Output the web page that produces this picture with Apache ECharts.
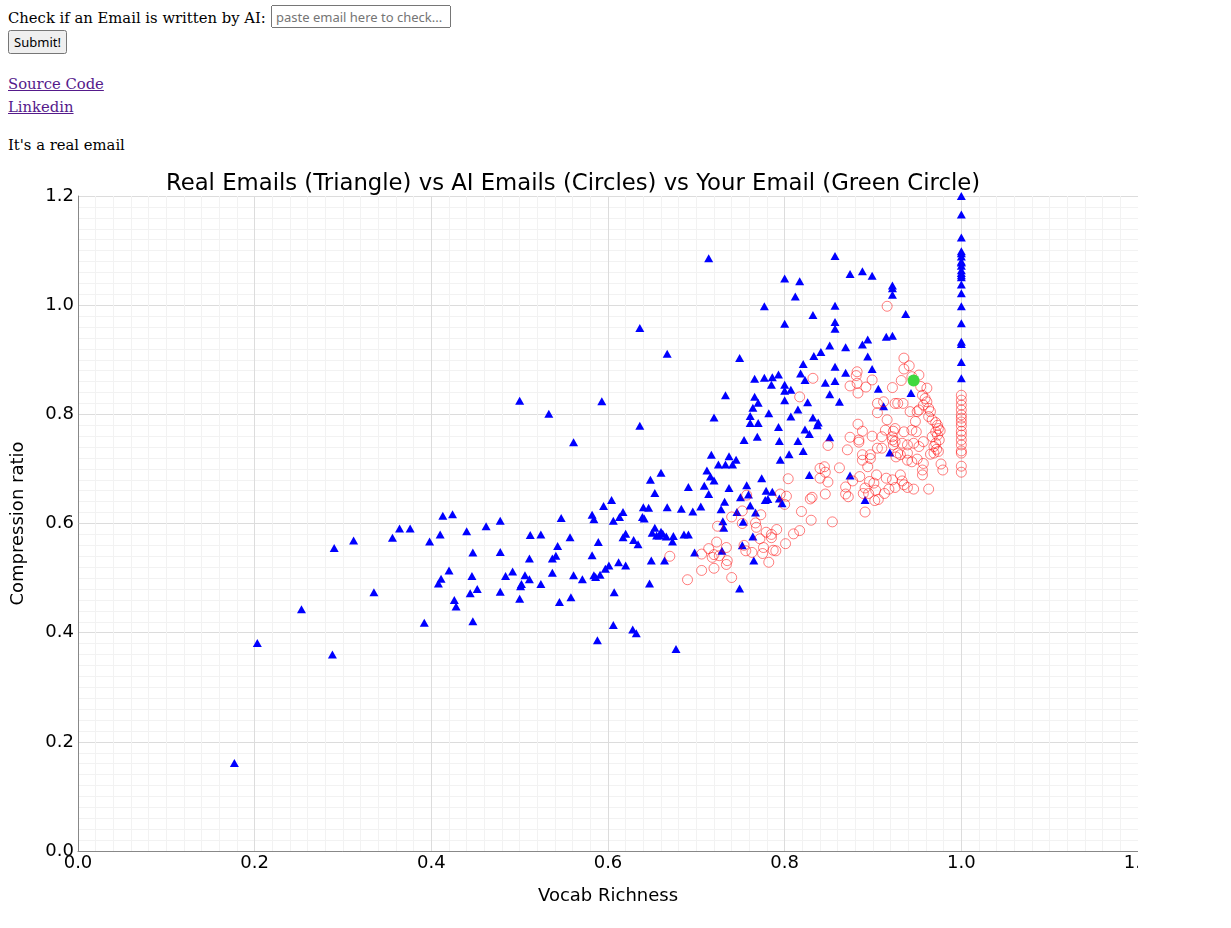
<!DOCTYPE html>
<html>
<head>
<meta charset="utf-8">
<script src="https://cdn.jsdelivr.net/npm/echarts@6/dist/echarts.min.js"></script>
<style>
  body { margin: 8px; font-family: 'DejaVu Serif', serif; font-size: 14.8px; color: #000; }
  .ln { position: absolute; left: 8px; line-height: 23px; white-space: nowrap; }
  a { color: #551a8b; }
  #q { position: absolute; left: 271px; top: 5px; width: 180px; height: 23px; box-sizing: border-box;
       font-family: 'Noto Sans', sans-serif; font-size: 13px; padding: 1px 3px; }
  #sub { position: absolute; left: 8px; top: 30px; width: 59px; height: 24px; box-sizing: border-box;
         font-family: 'Noto Sans', sans-serif; font-size: 13px; padding: 0; }
  #chart { position: absolute; left: 8px; top: 160px; width: 1130px; height: 760px; }
</style>
</head>
<body>
<div class="ln" style="top:6px">Check if an Email is written by AI:</div>
<input id="q" type="text" placeholder="paste email here to check...">
<button id="sub">Submit!</button>
<div class="ln" style="top:72px"><a href="#">Source Code</a><br><a href="#">Linkedin</a></div>
<div class="ln" style="top:133px">It's a real email</div>
<div id="chart"></div>
<script>
// Real emails (blue triangles)
const realX = [0.177,0.203,0.253,0.288,0.290,0.312,0.335,0.356,0.364,0.376,0.392,0.398,0.410,0.413,0.424,0.420,0.411,0.408,0.426,0.428,
0.500,0.593,0.533,0.561,0.604,0.595,0.582,0.584,0.547,0.478,0.462,0.606,0.613,0.440,0.512,0.524,0.557,0.589,0.543,0.447,
0.478,0.541,0.537,0.511,0.582,0.612,0.601,0.597,0.446,0.484,0.492,0.506,0.511,0.537,0.561,0.571,0.584,0.586,0.591,0.502,
0.501,0.524,0.478,0.452,0.444,0.500,0.545,0.558,0.607,0.447,0.606,0.588,
0.717,0.737,0.745,0.725,0.733,0.741,0.660,0.712,0.716,0.720,0.648,0.691,0.709,0.757,0.737,0.653,0.714,0.759,0.750,0.732,
0.761,0.640,0.646,0.667,0.683,0.696,0.705,0.728,0.746,0.767,0.617,0.639,0.641,0.730,0.753,0.731,0.653,0.650,0.660,0.662,
0.655,0.658,0.666,0.674,0.673,0.686,0.691,0.620,0.617,0.629,0.634,0.764,0.752,0.698,0.729,0.649,0.664,0.765,0.620,0.647,
0.749,0.628,0.632,0.677,0.754,
0.714,0.636,0.667,0.749,0.766,0.733,0.766,0.770,0.764,0.720,0.761,0.761,0.770,0.636,0.769,
0.857,0.874,0.888,0.899,0.800,0.817,0.812,0.777,0.857,0.832,0.800,0.857,0.857,0.894,0.888,0.851,0.869,0.841,0.833,0.894,
0.821,0.857,0.899,0.818,0.793,0.777,0.786,0.823,0.869,0.857,0.846,0.785,0.800,0.800,0.807,0.906,0.851,0.800,0.826,0.862,
0.815,0.782,0.807,0.832,0.838,0.837,0.793,0.823,0.828,0.851,
0.915,0.922,0.912,0.919,0.922,0.922,0.922,0.937,0.943,
0.794,0.815,0.821,0.805,0.795,0.828,0.774,0.874,0.779,0.786,0.794,0.778,0.781,0.797,0.891,
1.0,1.0,1.0,1.0,1.0,1.0,1.0,1.0,1.0,1.0,1.0,1.0,1.0,1.0,1.0,1.0,1.0,1.0,1.0,1.0,1.0];
const realY = [0.161,0.381,0.443,0.360,0.555,0.569,0.474,0.574,0.591,0.591,0.418,0.567,0.580,0.614,0.617,0.514,0.499,0.490,0.460,0.448,
0.825,0.824,0.801,0.749,0.643,0.632,0.616,0.608,0.610,0.605,0.595,0.605,0.612,0.586,0.579,0.580,0.575,0.566,0.559,0.547,
0.548,0.541,0.536,0.536,0.542,0.529,0.523,0.517,0.504,0.504,0.512,0.505,0.498,0.510,0.505,0.498,0.505,0.502,0.506,0.489,
0.485,0.489,0.475,0.480,0.472,0.462,0.456,0.465,0.474,0.421,0.414,0.386,
0.726,0.723,0.717,0.708,0.708,0.708,0.693,0.697,0.686,0.679,0.680,0.667,0.669,0.670,0.665,0.656,0.654,0.653,0.648,0.640,
0.633,0.630,0.629,0.630,0.627,0.622,0.631,0.626,0.621,0.620,0.621,0.612,0.609,0.604,0.603,0.592,0.592,0.583,0.585,0.581,
0.578,0.578,0.576,0.577,0.567,0.580,0.580,0.581,0.575,0.570,0.562,0.576,0.560,0.547,0.550,0.532,0.532,0.532,0.523,0.490,
0.481,0.406,0.399,0.370,0.753,
1.086,0.958,0.911,0.903,0.865,0.835,0.832,0.821,0.812,0.794,0.797,0.784,0.784,0.779,0.759,
1.090,1.057,1.062,1.054,1.049,1.044,1.016,0.998,0.999,0.982,0.966,0.969,0.957,0.937,0.928,0.926,0.923,0.914,0.907,0.906,
0.892,0.887,0.883,0.875,0.873,0.867,0.868,0.863,0.876,0.861,0.858,0.854,0.854,0.843,0.845,0.847,0.837,0.826,0.822,0.823,
0.809,0.802,0.796,0.794,0.785,0.780,0.777,0.772,0.764,0.758,
0.942,0.944,0.815,0.730,1.036,1.031,1.019,0.984,0.839,
0.751,0.751,0.733,0.727,0.717,0.689,0.683,0.688,0.660,0.658,0.646,0.643,0.645,0.637,0.643,
1.200,1.166,1.124,1.099,1.095,1.089,1.080,1.078,1.072,1.064,1.059,1.055,1.051,1.038,1.022,0.998,0.967,0.933,0.929,0.896,0.866];

// AI emails (red hollow circles)
const aiX = [0.757,0.752,0.740,0.767,0.752,0.724,0.768,0.772,0.723,0.714,0.734,0.754,0.756,0.763,0.706,0.718,0.720,0.726,0.670,0.735,
0.734,0.720,0.706,0.740,0.690,
0.832,0.882,0.881,0.899,0.874,0.882,0.892,0.883,0.817,0.905,0.905,0.883,0.888,0.874,0.884,0.899,
0.922,0.916,0.910,0.914,0.922,0.923,0.910,0.849,0.871,0.888,0.897,0.905,0.928,0.884,
0.888,0.897,0.894,0.862,0.840,0.845,0.846,0.840,0.849,0.804,0.877,0.885,0.904,0.896,0.901,0.869,0.891,0.903,0.869,0.889,
0.895,0.846,0.872,0.831,0.829,0.802,0.795,0.800,0.902,0.906,0.891,0.819,0.830,0.854,0.773,0.791,0.779,0.785,0.785,0.817,
0.810,0.801,0.776,0.787,0.790,0.775,0.782,
0.916,0.935,0.941,0.935,0.944,0.932,0.928,0.934,0.952,0.954,0.961,0.956,0.959,0.961,0.957,0.963,0.965,0.963,0.967,0.971,
0.973,0.974,0.971,0.973,0.975,0.971,0.969,0.933,0.939,0.946,0.952,0.957,0.942,0.952,0.948,0.944,0.935,0.950,0.976,0.967,
0.972,0.974,0.969,0.965,0.949,0.925,0.922,0.923,0.925,0.925,0.939,0.931,0.926,0.939,0.944,0.950,0.957,0.977,0.979,0.956,
0.956,0.931,0.915,0.922,0.933,0.935,0.939,0.946,0.925,0.918,0.913,0.963,0.912,
1.0,1.0,1.0,1.0,1.0,1.0,1.0,1.0,1.0,1.0,1.0,1.0,1.0,1.0,1.0,1.0];
const aiY = [0.652,0.623,0.612,0.601,0.600,0.595,0.593,0.572,0.566,0.554,0.556,0.560,0.550,0.547,0.544,0.538,0.543,0.541,0.540,0.532,
0.525,0.518,0.514,0.501,0.497,
0.866,0.878,0.871,0.863,0.852,0.857,0.850,0.839,0.832,0.820,0.803,0.782,0.769,0.758,0.753,0.760,
0.849,0.790,0.759,0.771,0.753,0.744,0.738,0.743,0.735,0.726,0.726,0.738,0.729,0.749,
0.716,0.719,0.704,0.702,0.701,0.704,0.694,0.683,0.676,0.682,0.678,0.686,0.689,0.677,0.674,0.667,0.665,0.661,0.654,0.655,
0.655,0.654,0.649,0.648,0.645,0.650,0.654,0.635,0.642,0.644,0.621,0.622,0.606,0.603,0.616,0.589,0.584,0.580,0.574,0.587,
0.581,0.563,0.556,0.551,0.550,0.545,0.529,
0.998,0.903,0.889,0.883,0.869,0.862,0.820,0.820,0.872,0.851,0.848,0.835,0.829,0.823,0.817,0.811,0.805,0.796,0.790,0.785,
0.780,0.774,0.768,0.762,0.753,0.747,0.741,0.747,0.744,0.747,0.741,0.750,0.805,0.808,0.787,0.771,0.768,0.805,0.770,0.759,
0.736,0.732,0.729,0.727,0.768,0.750,0.759,0.769,0.774,0.820,0.729,0.726,0.722,0.716,0.713,0.718,0.710,0.709,0.698,0.698,
0.689,0.689,0.683,0.680,0.678,0.671,0.666,0.663,0.666,0.663,0.655,0.663,0.823,
0.835,0.826,0.817,0.808,0.799,0.793,0.786,0.779,0.769,0.762,0.753,0.744,0.733,0.729,0.705,0.694];

// Your email (green circle)
const yourX = [0.946];
const yourY = [0.862];

const xTicks = [0, 0.2, 0.4, 0.6, 0.8, 1.0, 1.2];
const yTicks = [0, 0.2, 0.4, 0.6, 0.8, 1.0, 1.2];

const zip = (xs, ys) => xs.map((x, i) => [x, ys[i]]);
const FONT = 'DejaVu Sans';

const chart = echarts.init(document.getElementById('chart'), null, { renderer: 'canvas' });

function axisCfg(name, ticks, isX) {
  return {
    type: 'value',
    min: ticks[0],
    max: ticks[ticks.length - 1],
    interval: ticks[1] - ticks[0],
    name: name,
    nameLocation: 'middle',
    nameGap: isX ? 36 : 51,
    nameTextStyle: { fontFamily: FONT, fontSize: 18, color: '#000' },
    axisLine: { show: true, onZero: false, lineStyle: { color: '#888', width: 1 } },
    axisTick: { show: false },
    axisLabel: { fontFamily: FONT, fontSize: 18, color: '#000', margin: isX ? 3 : 4,
                 formatter: v => v.toFixed(1), showMinLabel: true, showMaxLabel: true, hideOverlap: false },
    splitLine: { show: true, lineStyle: { color: '#dcdcdc', width: 1 } },
    minorTick: { show: false, splitNumber: 10 },
    minorSplitLine: { show: true, lineStyle: { color: '#f2f2f2', width: 1 } }
  };
}

chart.setOption({
  animation: false,
  backgroundColor: '#fff',
  title: {
    text: 'Real Emails (Triangle) vs AI Emails (Circles) vs Your Email (Green Circle)',
    left: 'center',
    top: 8,
    textStyle: { fontFamily: FONT, fontSize: 22.75, fontWeight: 'normal', color: '#000' }
  },
  grid: { left: 70, right: 0, top: 36, bottom: 69, containLabel: false, outerBoundsMode: 'none' },
  xAxis: axisCfg('Vocab Richness', xTicks, true),
  yAxis: axisCfg('Compression ratio', yTicks, false),
  series: [
    {
      name: 'Real', type: 'scatter', symbol: 'triangle', symbolSize: [9, 8],
      itemStyle: { color: '#0000ff', opacity: 1 },
      data: zip(realX, realY), silent: true, z: 2
    },
    {
      name: 'AI', type: 'scatter', symbol: 'circle', symbolSize: 10,
      itemStyle: { color: 'rgba(255,255,255,0)', borderColor: 'rgba(255,0,0,0.5)', borderWidth: 1, opacity: 1 },
      data: zip(aiX, aiY), silent: true, z: 3
    },
    {
      name: 'You', type: 'scatter', symbol: 'circle', symbolSize: 12,
      itemStyle: { color: '#3fd83f', opacity: 1 },
      data: zip(yourX, yourY), silent: true, z: 4
    }
  ]
});
</script>
</body>
</html>
